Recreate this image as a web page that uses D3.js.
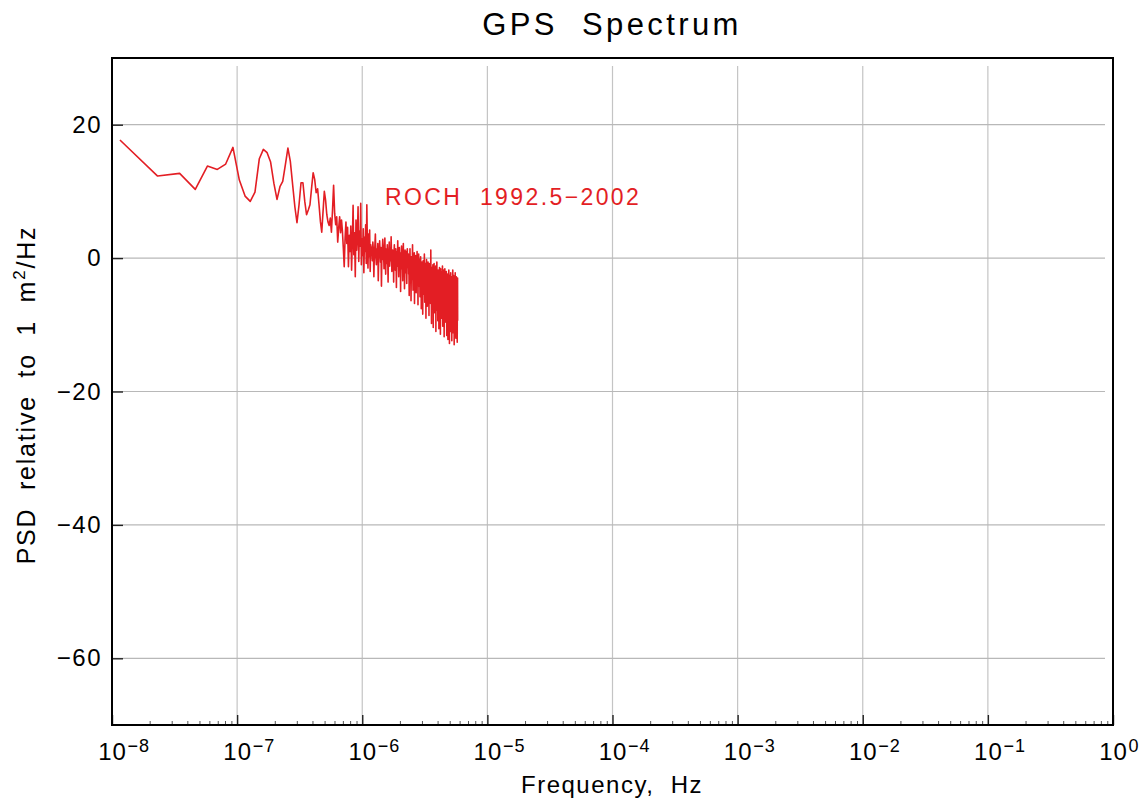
<!DOCTYPE html>
<html>
<head>
<meta charset="utf-8">
<script src="https://cdn.jsdelivr.net/npm/d3@7"></script>
<style>
  html, body { margin: 0; padding: 0; background: #fff; }
  svg { display: block; }
  text { font-family: "Liberation Sans", Arial, Helvetica, sans-serif; fill: #000; white-space: pre; }
</style>
</head>
<body>
<svg id="chart" width="1146" height="801" xml:space="preserve"></svg>
<script>
// ---- data ----
const title = "GPS  Spectrum";
const xLabel = "Frequency,  Hz";
const yLabelMain = "PSD  relative  to  1  m";
const yLabelSup = "2";
const yLabelTail = "/Hz";
const seriesLabel = "ROCH  1992.5\u22122002";
const baseFrequency = 1 / (86400 * 1000);   // 1000-day segment, bin spacing in Hz
const xTickExponents = [-8, -7, -6, -5, -4, -3, -2, -1, 0];
const yTickValues = [20, 0, -20, -40, -60];
const yDomain = [-70, 30];
// PSD (dB relative to 1 m^2/Hz) for bins k = 1..500
const psd = [
  17.7, 12.3, 12.7, 10.3, 13.8, 13.3, 14.1, 16.6, 11.7, 9.3,
  8.5, 9.9, 14.9, 16.3, 15.8, 14.4, 11.2, 8.8, 10.7, 11.5,
  14.0, 16.5, 14.5, 11.0, 7.7, 5.3, 8.0, 11.3, 11.3, 8.5,
  6.5, 7.2, 8.0, 10.5, 12.8, 11.8, 9.8, 10.4, 8.0, 5.5,
  3.9, 7.0, 10.0, 8.7, 6.5, 5.4, 4.9, 6.0, 3.9, 7.2,
  10.9, 6.7, 5.0, 6.2, 2.4, 4.5, 6.2, 3.8, 5.7, 4.0,
  1.5, -1.3, 3.0, 5.4, 2.2, 4.6, -1.3, 3.4, 1.0, 4.8,
  -1.8, 2.6, 7.9, 0.5, 3.8, -2.8, 5.7, 1.2, 3.5, 7.7,
  -0.5, 4.0, 1.8, 8.2, -1.0, 2.9, 0.4, 4.4, -2.2, 3.1,
  1.0, 5.0, -0.8, 8.0, 2.0, -1.5, 3.6, 0.2, 4.2, -2.0,
  2.0, 0.8, 1.6, -0.4, 2.4, 1.2, -2.8, 0.6, 1.8, 3.6,
  0.2, -1.0, 1.4, 0.4, 2.2, -3.4, 0.0, 1.0, 2.6, 0.8,
  -0.6, 1.6, -4.2, 0.4, 1.2, 2.8, -0.2, 0.6, -1.6, 1.8,
  3.0, 0.0, -2.4, 0.8, 1.4, -0.8, 2.0, 0.2, -3.6, 1.0,
  0.4, 2.4, -1.2, 0.2, 1.6, -0.4, 3.2, 0.6, -2.0, 0.0,
  1.2, -0.6, 0.4, -3.6, 0.8, 2.0, -1.0, 0.0, -1.8, 1.4,
  -0.4, -4.4, 0.6, 1.0, -1.2, 2.6, -0.2, -0.8, -2.8, 0.4,
  1.6, -0.6, -1.4, 0.2, -5.0, 0.8, -0.4, 1.8, -1.6, 0.0,
  -0.8, -3.4, 0.6, 2.2, -1.0, -0.2, 0.4, -4.6, -1.2, 1.2,
  -0.6, 0.2, -2.2, 1.0, -0.8, -3.8, 0.4, 1.4, -1.4, -0.4,
  -1.0, 0.6, -2.4, -1.6, -5.6, -0.4, -1.8, 1.4, -2.8, -1.2,
  -0.6, -6.4, -2.0, 0.2, -1.4, -3.2, -0.8, 2.0, -2.2, -4.8,
  -1.0, -0.2, -2.6, -1.4, 0.8, -6.8, -1.8, -0.6, -3.0, -1.2,
  0.4, -2.4, -5.2, -1.6, -0.4, -2.0, 1.0, -3.6, -1.0, -2.8,
  -7.0, -0.8, -1.6, 0.6, -2.4, -4.2, -1.2, -0.2, -2.0, -5.8,
  -1.6, -2.6, 0.2, -3.4, -2.0, -7.6, -1.2, -2.8, -0.6, -4.0,
  -2.2, -1.0, -8.4, -2.6, -0.4, -3.2, -1.8, -5.4, -2.4, -1.2,
  0.6, -3.0, -6.6, -2.0, -1.4, -3.6, -0.8, -2.6, -9.0, -1.8,
  -3.0, -0.2, -4.4, -2.2, -1.6, -7.2, -2.8, -1.0, -3.4, -0.6,
  -5.8, -2.4, -1.4, -3.8, -8.6, -2.0, -0.8, -3.0, -1.8, -6.2,
  -2.6, -4.0, -3.2, -6.8, 1.2, -3.6, -2.2, -4.8, -9.8, -3.0,
  -1.4, -4.4, -3.8, -7.4, -2.4, -5.0, -1.0, -3.6, -10.4, -4.2,
  -2.8, -5.4, -3.0, -0.8, -4.6, -8.2, -3.4, -2.0, -5.2, -3.8,
  -6.6, -2.6, -4.0, -1.2, -11.0, -3.6, -4.8, -2.2, -5.8, -3.2,
  -0.6, -4.4, -7.8, -3.0, -2.4, -5.0, -9.4, -3.8, -1.8, -4.6,
  -3.4, -6.2, -2.6, -10.6, -4.0, -3.0, -5.6, -1.4, -4.2, -8.0,
  -3.6, -2.8, -5.2, -11.4, -3.2, -1.6, -4.8, -6.8, -3.0, -4.4,
  -2.0, -9.0, -3.8, -5.4, -2.6, -7.2, -4.0, -1.2, -3.6, -10.2,
  -4.6, -2.8, -6.0, -3.4, -5.0, -1.8, -8.8, -3.2, -4.4, -11.8,
  -2.4, -5.6, -3.8, -7.0, -1.6, -4.2, -9.6, -3.0, -5.2, -2.6,
  -4.4, -6.8, -3.2, -9.2, -5.0, -2.0, -6.2, -4.6, -11.6, -5.4,
  -3.6, -7.4, -4.8, -2.4, -8.6, -5.8, -4.0, -12.2, -5.2, -3.0,
  -6.6, -4.4, -9.8, -5.6, -1.8, -6.0, -4.8, -7.8, -3.4, -12.8,
  -5.0, -6.4, -2.6, -4.6, -10.4, -5.8, -3.8, -7.0, -4.2, -2.2,
  -11.0, -5.6, -6.8, -3.6, -8.8, -4.8, -5.4, -2.8, -12.4, -6.0,
  -4.0, -7.6, -3.2, -5.8, -9.4, -4.4, -1.8, -6.6, -5.2, -11.2,
  -3.8, -7.2, -4.6, -2.6, -10.0, -5.6, -6.2, -3.4, -13.0, -4.8,
  -5.8, -8.4, -3.0, -6.4, -4.2, -11.8, -5.0, -2.2, -7.0, -4.6,
  -9.0, -5.4, -3.6, -12.0, -6.2, -4.0, -7.8, -2.8, -5.6, -10.6,
  -4.4, -6.8, -3.2, -8.2, -5.0, -12.6, -4.0, -6.0, -3.0, -9.4
];
const frequency = psd.map((_, i) => (i + 1) * baseFrequency);

// ---- layout ----
const plot = { left: 112, right: 1113, top: 58, bottom: 725 };
const svg = d3.select("#chart");

const x = d3.scaleLog().domain([1e-8, 1]).range([plot.left, plot.right]);
const y = d3.scaleLinear().domain(yDomain).range([plot.bottom, plot.top]);
const decades = xTickExponents.map(e => Math.pow(10, e));

// grid
const grid = svg.append("g");
grid.selectAll("line.v").data(decades.slice(1, -1)).join("line")
  .attr("x1", d => x(d)).attr("x2", d => x(d))
  .attr("y1", plot.top + 8).attr("y2", plot.bottom)
  .attr("stroke", "#c4c4c4").attr("stroke-width", 1.2);
grid.selectAll("line.h").data(yTickValues).join("line")
  .attr("x1", plot.left).attr("x2", plot.right - 8)
  .attr("y1", d => y(d)).attr("y2", d => y(d))
  .attr("stroke", "#b8b8b8").attr("stroke-width", 1.2);

// minor x ticks
const minor = [];
for (let e = -8; e < 0; e++) for (let m = 2; m <= 9; m++) minor.push(m * Math.pow(10, e));
svg.append("g").attr("transform", `translate(0,${plot.bottom})`)
  .call(d3.axisBottom(x).tickValues(minor).tickSize(-4).tickFormat(""))
  .call(g => g.select(".domain").remove())
  .call(g => g.selectAll("line").attr("stroke", "#555").attr("stroke-width", 1));

// major x ticks and labels
const xAxis = svg.append("g").attr("transform", `translate(0,${plot.bottom})`)
  .call(d3.axisBottom(x).tickValues(decades).tickSize(-10).tickFormat(() => "10"));
xAxis.select(".domain").remove();
xAxis.selectAll("line").attr("stroke", "#222").attr("stroke-width", 1.4);
xAxis.selectAll("text").attr("font-size", 24).attr("letter-spacing", 1).attr("fill", "#000")
  .attr("dy", null).attr("y", 35);
xAxis.selectAll(".tick").append("text")
  .attr("x", 15).attr("y", 27)
  .attr("text-anchor", "start").attr("font-size", 18).attr("letter-spacing", 1).attr("fill", "#000")
  .text((d, i) => xTickExponents[i] < 0 ? "\u2212" + (-xTickExponents[i]) : String(xTickExponents[i]));

// y ticks and labels
const yAxis = svg.append("g").attr("transform", `translate(${plot.left},0)`)
  .call(d3.axisLeft(y).tickValues(yTickValues).tickSize(-11).tickPadding(10)
    .tickFormat(d => d < 0 ? "\u2212" + (-d) : String(d)));
yAxis.select(".domain").remove();
yAxis.selectAll("line").attr("stroke", "#222").attr("stroke-width", 1.4);
yAxis.selectAll("text").attr("font-size", 24).attr("letter-spacing", 1.5).attr("fill", "#000");

// data line
svg.append("path")
  .datum(psd.map((v, i) => [frequency[i], v]))
  .attr("fill", "none")
  .attr("stroke", "#e31e24")
  .attr("stroke-width", 1.6)
  .attr("stroke-linejoin", "round")
  .attr("d", d3.line().x(d => x(d[0])).y(d => y(d[1])));

// frame
svg.append("rect")
  .attr("x", plot.left).attr("y", plot.top)
  .attr("width", plot.right - plot.left).attr("height", plot.bottom - plot.top)
  .attr("fill", "none").attr("stroke", "#000").attr("stroke-width", 2);

// series label
svg.append("text")
  .attr("x", 385).attr("y", 205)
  .attr("font-size", 23).attr("letter-spacing", 2.4)
  .style("fill", "#e31e24")
  .text(seriesLabel);

// title
svg.append("text")
  .attr("x", 612).attr("y", 35).attr("text-anchor", "middle")
  .attr("font-size", 31).attr("letter-spacing", 3.4)
  .text(title);

// x label
svg.append("text")
  .attr("x", 612).attr("y", 793).attr("text-anchor", "middle")
  .attr("font-size", 24).attr("letter-spacing", 1.5)
  .text(xLabel);

// y label
const yl = svg.append("text")
  .attr("transform", "translate(35,395) rotate(-90)")
  .attr("text-anchor", "middle")
  .attr("font-size", 25).attr("letter-spacing", 1.8);
yl.append("tspan").text(yLabelMain);
yl.append("tspan").attr("font-size", 17).attr("dy", -10).text(yLabelSup);
yl.append("tspan").attr("dy", 10).text(yLabelTail);
</script>
</body>
</html>
